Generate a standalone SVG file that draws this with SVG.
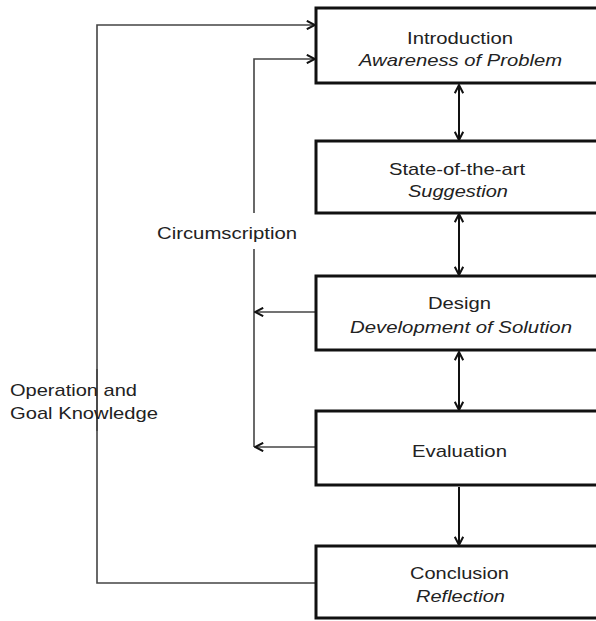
<svg xmlns="http://www.w3.org/2000/svg" width="596" height="621" viewBox="0 0 596 621">
<style>
.box{fill:#fff;stroke:#111;stroke-width:3}
.t{font-family:"Liberation Sans",Arial,sans-serif;font-size:17px;fill:#222}
.m{text-anchor:middle}
.i{font-style:italic}
.c{fill:none;stroke:#444;stroke-width:1.6}
.v{fill:none;stroke:#111;stroke-width:2}
</style>
<defs>
<marker id="ah" viewBox="0 0 10 10" refX="9.2" refY="5" markerWidth="10" markerHeight="10" markerUnits="userSpaceOnUse" orient="auto-start-reverse">
<path d="M1,0.8 L9.2,5 L1,9.2" fill="none" stroke="#111" stroke-width="2"/>
</marker>
</defs>
<rect width="596" height="621" fill="#fff"/>
<g id="connectors">
<path class="c" d="M316,583 H97 V369"/>
<path class="c" d="M97,431 V25 H315" marker-end="url(#ah)"/>
<path class="c" d="M254,447 V249"/>
<path class="c" d="M254,213 V59 H315" marker-end="url(#ah)"/>
<path class="c" d="M316,312 H255" marker-end="url(#ah)"/>
<path class="c" d="M316,447 H255" marker-end="url(#ah)"/>
<path class="v" d="M459,85 V140" marker-start="url(#ah)" marker-end="url(#ah)"/>
<path class="v" d="M459,214 V275" marker-start="url(#ah)" marker-end="url(#ah)"/>
<path class="v" d="M459,352 V410" marker-start="url(#ah)" marker-end="url(#ah)"/>
<path class="v" d="M459,487 V545" marker-end="url(#ah)"/>
</g>
<g id="labels">
<text class="t" x="157" y="239" textLength="140" lengthAdjust="spacingAndGlyphs">Circumscription</text>
<text class="t" x="10" y="396" textLength="127" lengthAdjust="spacingAndGlyphs">Operation and</text>
<text class="t" x="10" y="419" textLength="148" lengthAdjust="spacingAndGlyphs">Goal Knowledge</text>
</g>
<g id="introduction">
<rect class="box" x="316" y="8" width="290" height="75"/>
<text class="t m" x="460" y="44" textLength="106" lengthAdjust="spacingAndGlyphs">Introduction</text>
<text class="t m i" x="460.5" y="66" textLength="203" lengthAdjust="spacingAndGlyphs">Awareness of Problem</text>
</g>
<g id="state-of-the-art">
<rect class="box" x="316" y="141" width="290" height="72"/>
<text class="t m" x="457" y="175" textLength="136" lengthAdjust="spacingAndGlyphs">State-of-the-art</text>
<text class="t m i" x="458" y="197" textLength="100" lengthAdjust="spacingAndGlyphs">Suggestion</text>
</g>
<g id="design">
<rect class="box" x="316" y="276" width="290" height="74"/>
<text class="t m" x="459.5" y="309" textLength="63" lengthAdjust="spacingAndGlyphs">Design</text>
<text class="t m i" x="461" y="333" textLength="222" lengthAdjust="spacingAndGlyphs">Development of Solution</text>
</g>
<g id="evaluation">
<rect class="box" x="316" y="411" width="290" height="74"/>
<text class="t m" x="459.5" y="457" textLength="95" lengthAdjust="spacingAndGlyphs">Evaluation</text>
</g>
<g id="conclusion">
<rect class="box" x="316" y="546" width="290" height="72"/>
<text class="t m" x="459.5" y="579" textLength="99" lengthAdjust="spacingAndGlyphs">Conclusion</text>
<text class="t m i" x="460.5" y="602" textLength="89" lengthAdjust="spacingAndGlyphs">Reflection</text>
</g>
</svg>
